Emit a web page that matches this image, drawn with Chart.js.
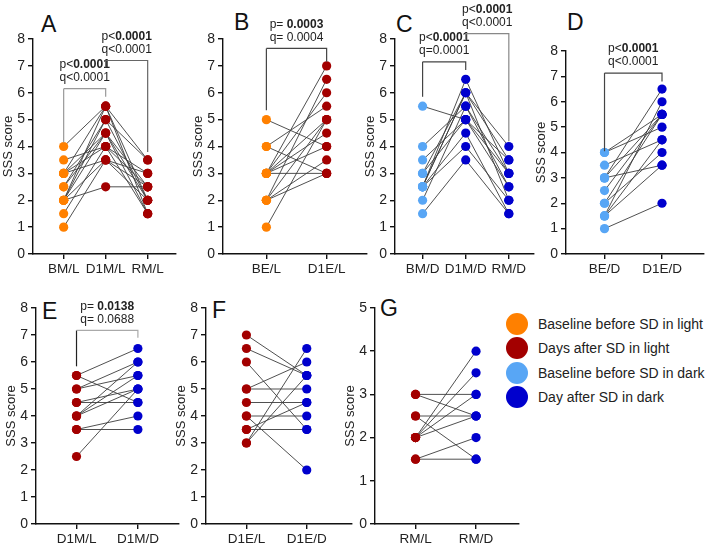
<!DOCTYPE html>
<html>
<head>
<meta charset="utf-8">
<script src="https://cdn.jsdelivr.net/npm/chart.js@4"></script>
<style>
  body { margin: 0; width: 708px; height: 545px; overflow: hidden; background: #fff; position: relative; font-family: Arial, "Liberation Sans", sans-serif; }
  canvas { position: absolute; }
  .lbl { position: absolute; font-size: 23px; line-height: 23px; color: #111; }
  .legend { position: absolute; left: 506px; top: 312px; font-size: 14px; color: #222; }
  .legend div { height: 24.3px; display: flex; align-items: center; }
  .legend span.dot { width: 22px; height: 22px; border-radius: 50%; display: inline-block; margin-right: 10px; }
</style>
</head>
<body>
<div class="lbl" style="left:41px;top:13px">A</div>
<div class="lbl" style="left:234px;top:11px">B</div>
<div class="lbl" style="left:396px;top:13px">C</div>
<div class="lbl" style="left:567px;top:11px">D</div>
<div class="lbl" style="left:42px;top:300px">E</div>
<div class="lbl" style="left:212px;top:299px">F</div>
<div class="lbl" style="left:380px;top:297px">G</div>

<div class="legend" id="legend"></div>

<script>
const ORANGE = '#ff8000', RED = '#a30000', LBLUE = '#58a6f5', BLUE = '#0000cd';

// categories and paired subject values (one row per subject)
const catsA = ['BM/L', 'D1M/L', 'RM/L'];
const subjA = [
  [4, 5.5, 3.5], [3.5, 4, 2.5], [3, 5.5, 2], [3, 4, 3], [3, 3.5, 2.5],
  [2.5, 5, 2], [2.5, 4.5, 1.5], [2, 5, 3.5], [2, 4.5, 2.5], [2, 3.5, 3],
  [2, 2.5, 2.5], [1.5, 4, 1.5], [1, 3.5, 2], [2, 5.5, 1.5], [3, 4.5, 2]
];
const catsB = ['BE/L', 'D1E/L'];
const subjB = [
  [5, 4], [4, 3], [4, 5.5], [3, 3], [3, 4], [3, 4.5], [3, 6], [3, 7],
  [2, 3], [2, 3.5], [2, 5], [2, 6.5], [1, 5], [3, 5]
];
const catsC = ['BM/D', 'D1M/D', 'RM/D'];
const subjC = [
  [5.5, 5, 3.5], [4, 5.5, 3], [3.5, 5, 2.5], [3, 6, 4], [2.5, 6.5, 3],
  [2.5, 6, 2], [2.5, 4.5, 1.5], [2, 5.5, 2.5], [1.5, 3.5, 1.5], [2.5, 4, 2],
  [3, 5, 3], [2.5, 6, 3.5]
];
const catsD = ['BE/D', 'D1E/D'];
const subjD = [
  [4, 5], [4, 5.5], [3, 3.5], [3, 6.5], [3, 5.5], [2.5, 5.5], [2, 5.5],
  [2, 4], [1.5, 4.5], [1.5, 6], [1, 2], [3.5, 4.5], [1.5, 3.5]
];
const catsE = ['D1M/L', 'D1M/D'];
const subjE = [
  [5.5, 6.5], [5.5, 4.5], [5, 6], [5, 5.5], [4.5, 5], [4.5, 4.5],
  [4, 5.5], [4, 5], [3.5, 4], [3.5, 3.5], [2.5, 5], [4, 6]
];
const catsF = ['D1E/L', 'D1E/D'];
const subjF = [
  [7, 5.5], [6.5, 5.5], [6, 3.5], [5, 5], [5, 6], [4.5, 4.5],
  [4, 4], [4, 2], [3.5, 4.5], [3.5, 3.5], [3, 6.5], [3, 5.5]
];
const catsG = ['RM/L', 'RM/D'];
const subjG = [
  [3, 3], [3, 2.5], [2.5, 2.5], [2.5, 1.5], [2, 4], [2, 3.5], [2, 3],
  [2, 2.5], [1.5, 2], [1.5, 1.5]
];

const legendLabels = ['Baseline before SD in light', 'Days after SD in light', 'Baseline before SD in dark', 'Day after SD in dark'];
const legendColors = [ORANGE, RED, LBLUE, BLUE];

const FONT = 'Arial, "Liberation Sans", sans-serif';

// significance brackets: x from a to b, bar at y, legs down to ya / yb
const bracketPlugin = {
  id: 'brackets',
  afterDraw(chart) {
    const list = chart.options.plugins.brackets.list || [];
    const ctx = chart.ctx, xs = chart.scales.x, ys = chart.scales.y;
    list.forEach(br => {
      const xa = xs.getPixelForValue(br.a), xb = xs.getPixelForValue(br.b);
      const y = ys.getPixelForValue(br.y);
      ctx.save();
      ctx.lineWidth = 1.2;
      ctx.strokeStyle = br.legColor || br.color;
      ctx.beginPath();
      ctx.moveTo(xa, ys.getPixelForValue(br.ya));
      ctx.lineTo(xa, y);
      ctx.stroke();
      ctx.strokeStyle = br.color;
      ctx.beginPath();
      ctx.moveTo(xa, y);
      ctx.lineTo(xb, y);
      ctx.lineTo(xb, ys.getPixelForValue(br.yb));
      ctx.stroke();
      const cx = (xa + xb) / 2;
      ctx.fillStyle = '#222';
      ctx.textBaseline = 'middle';
      [[br.p, -24], [br.q, -11]].forEach(([t, dy], i) => {
        const pre = t[0], num = t[1];
        ctx.font = '12px ' + FONT;
        const w1 = ctx.measureText(pre).width;
        ctx.font = (i === 0 ? 'bold ' : '') + '12px ' + FONT;
        const w2 = ctx.measureText(num).width;
        const x0 = cx - (w1 + w2) / 2;
        ctx.font = '12px ' + FONT;
        ctx.textAlign = 'left';
        ctx.fillText(pre, x0, y + dy);
        ctx.font = (i === 0 ? 'bold ' : '') + '12px ' + FONT;
        ctx.fillText(num, x0 + w1, y + dy);
      });
      ctx.restore();
    });
  }
};

function makePanel(cfg) {
  const YW = 36, XH = 24;
  const canvas = document.createElement('canvas');
  const w = YW + (cfg.right - cfg.axisX) + 3;
  const h = cfg.bottom + XH - cfg.top0;
  canvas.width = w; canvas.height = h;
  canvas.style.left = (cfg.axisX - YW) + 'px';
  canvas.style.top = cfg.top0 + 'px';
  document.body.appendChild(canvas);

  const cats = cfg.cats;
  const datasets = [];
  cfg.subjects.forEach(s => {
    datasets.push({
      data: s.map((v, i) => ({ x: i, y: v })),
      borderColor: '#3c3c3c', borderWidth: 0.9,
      pointRadius: 0, order: 2
    });
  });
  cats.forEach((c, i) => {
    datasets.push({
      data: cfg.subjects.map(s => ({ x: i, y: s[i] })),
      showLine: false, pointRadius: 4.6, pointBorderWidth: 0,
      pointBackgroundColor: cfg.colors[i], order: 1
    });
  });

  const axisCommon = {
    grid: { drawOnChartArea: false, tickLength: 5, color: '#111', lineWidth: 1.4 },
    border: { color: '#111', width: 1.4 }
  };

  new Chart(canvas, {
    type: 'line',
    data: { datasets },
    options: {
      animation: false, responsive: false,
      layout: { padding: { left: 0, right: 3, top: cfg.top - cfg.top0, bottom: 0 } },
      plugins: { legend: { display: false }, tooltip: { enabled: false }, brackets: { list: cfg.brackets || [] } },
      scales: {
        x: Object.assign({}, axisCommon, {
          type: 'linear', min: cfg.xmin, max: cfg.xmax,
          afterBuildTicks: s => { s.ticks = cats.map((c, i) => ({ value: i })); },
          afterFit: s => { s.height = XH; },
          ticks: { callback: v => cats[v], color: '#222', padding: 2, maxRotation: 0, font: { size: 13.5, family: FONT } }
        }),
        y: Object.assign({}, axisCommon, {
          min: 0, max: cfg.ymax,
          afterFit: s => { s.width = YW; },
          ticks: { stepSize: 1, color: '#222', padding: 3, font: { size: 14, family: FONT } },
          title: { display: true, text: 'SSS score', color: '#222', padding: { top: 4, bottom: 0 }, font: { size: 13, family: FONT } }
        })
      }
    },
    plugins: [bracketPlugin]
  });
}

makePanel({ cats: catsA, subjects: subjA, colors: [ORANGE, RED, RED], axisX: 33, right: 177, top0: 0, top: 39, bottom: 254, ymax: 8, xmin: -0.73, xmax: 2.66,
  brackets: [
    { a: 0, b: 1, y: 6.15, ya: 4.15, yb: 5.85, color: '#999', p: ['p<', '0.0001'], q: ['q<', '0.0001'] },
    { a: 1, b: 2, y: 7.2, ya: 6.95, yb: 3.8, color: '#666', p: ['p<', '0.0001'], q: ['q<', '0.0001'] }
  ] });
makePanel({ cats: catsB, subjects: subjB, colors: [ORANGE, RED], axisX: 223, right: 368, top0: 0, top: 39, bottom: 254, ymax: 8, xmin: -0.72, xmax: 1.66,
  brackets: [
    { a: 0, b: 1, y: 7.65, ya: 5.35, yb: 7.15, color: '#444', p: ['p= ', '0.0003'], q: ['q= ', '0.0004'] }
  ] });
makePanel({ cats: catsC, subjects: subjC, colors: [LBLUE, BLUE, BLUE], axisX: 395, right: 535, top0: 0, top: 39, bottom: 254, ymax: 8, xmin: -0.64, xmax: 2.57,
  brackets: [
    { a: 0, b: 1, y: 7.15, ya: 5.85, yb: 6.85, color: '#444', p: ['p<', '0.0001'], q: ['q=', '0.0001'] },
    { a: 1, b: 2, y: 8.2, ya: 7.95, yb: 4.2, color: '#888', p: ['p<', '0.0001'], q: ['q<', '0.0001'] }
  ] });
makePanel({ cats: catsD, subjects: subjD, colors: [LBLUE, BLUE], axisX: 566, right: 705, top0: 0, top: 51, bottom: 254, ymax: 8, xmin: -0.67, xmax: 1.72,
  brackets: [
    { a: 0, b: 1, y: 7.13, ya: 4.05, yb: 6.8, color: '#444', p: ['p<', '0.0001'], q: ['q<', '0.0001'] }
  ] });
makePanel({ cats: catsE, subjects: subjE, colors: [RED, BLUE], axisX: 36, right: 180, top0: 270, top: 308, bottom: 524, ymax: 8, xmin: -0.66, xmax: 1.66,
  brackets: [
    { a: 0, b: 1, y: 7.17, ya: 5.84, yb: 6.9, color: '#aaa', legColor: '#222', p: ['p= ', '0.0138'], q: ['q= ', '0.0688'] }
  ] });
makePanel({ cats: catsF, subjects: subjF, colors: [RED, BLUE], axisX: 206, right: 353, top0: 270, top: 308, bottom: 524, ymax: 8, xmin: -0.67, xmax: 1.74 });
makePanel({ cats: catsG, subjects: subjG, colors: [RED, BLUE], axisX: 375, right: 520, top0: 270, top: 308, bottom: 524, ymax: 5, xmin: -0.67, xmax: 1.70 });

const legend = document.getElementById('legend');
legendLabels.forEach((t, i) => {
  const row = document.createElement('div');
  row.innerHTML = '<span class="dot" style="background:' + legendColors[i] + '"></span><span>' + t + '</span>';
  legend.appendChild(row);
});
</script>
</body>
</html>
